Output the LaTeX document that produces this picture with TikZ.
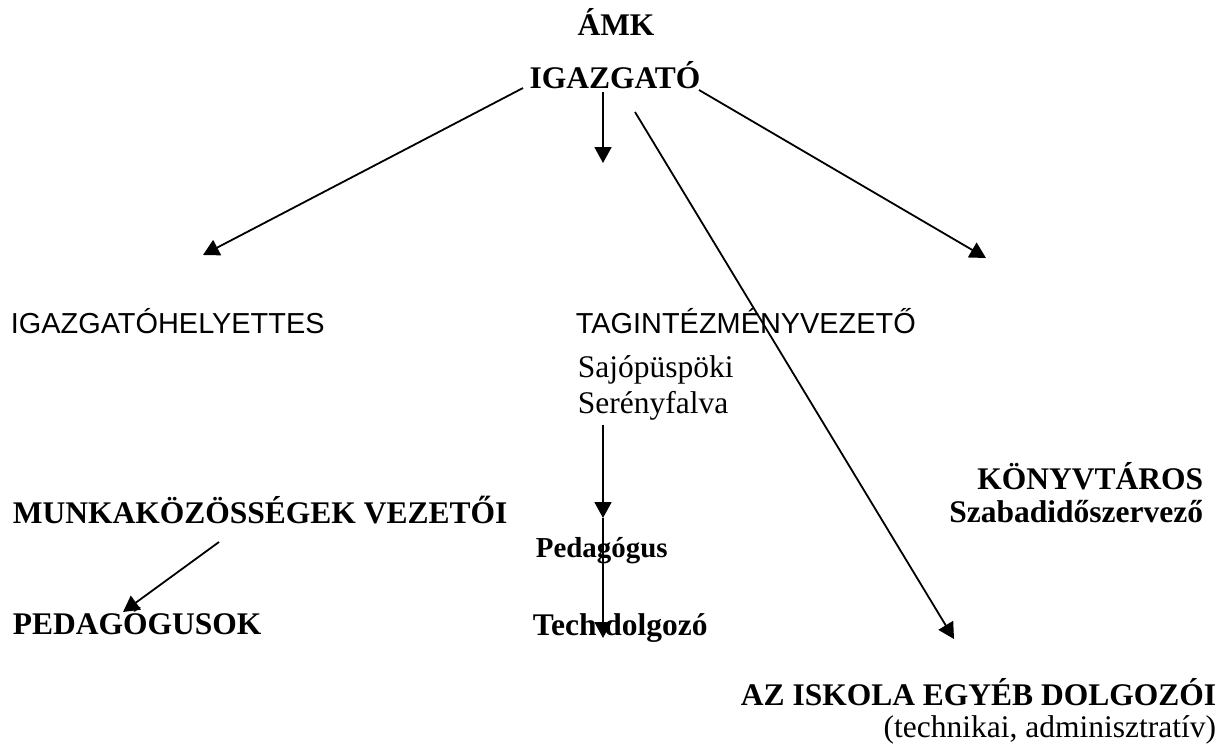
\documentclass[tikz,border=0pt]{standalone}
\usepackage{fontspec}
\setmainfont{Liberation Serif}
\setsansfont{Liberation Sans}
\usetikzlibrary{arrows.meta,positioning}

\begin{document}
\begin{tikzpicture}[x=1pt,y=-1pt,->,>={Triangle[length=16pt,width=17pt]},line width=1.8pt,
	base node/.style={inner sep=0pt,font=\fontsize{31.5}{36}\selectfont},
	bold node/.style={base node,font=\fontsize{31.5}{36}\selectfont\bfseries},
	small node/.style={base node,font=\fontsize{28.9}{34}\selectfont\bfseries},
	sans node/.style={base node,font=\fontsize{28.9}{34}\selectfont\sffamily}]

	\useasboundingbox (0,0) rectangle (1230,752);

	\node[bold node,anchor=base] (amk) at (616,36) {ÁMK};
	\node[bold node,anchor=base] (igazgato) at (615,88) {IGAZGATÓ};
	\node[sans node,anchor=base west] (helyettes) at (10,333) {IGAZGATÓHELYETTES};
	\node[sans node,anchor=base west] (tag) at (575,333) {TAGINTÉZMÉNYVEZETŐ};
	\node[base node,anchor=base west] (sajo) at (577,377) {Sajópüspöki};
	\node[base node,below=36pt of sajo.base west,anchor=base west] (seren) {Serényfalva};
	\node[bold node,anchor=base west] (munka) at (12,523) {MUNKAKÖZÖSSÉGEK VEZETŐI};
	\node[bold node,anchor=base west] (pedagogusok) at (12,634) {PEDAGÓGUSOK};
	\node[small node,anchor=base west] (pedagogus) at (535,557) {Pedagógus};
	\node[bold node,anchor=base west] (tech) at (532,635) {Tech dolgozó};
	\node[bold node,anchor=base east] (konyvtaros) at (1204,489) {KÖNYVTÁROS};
	\node[bold node,below=33pt of konyvtaros.base east,anchor=base east] (szabadido) {Szabadidőszervező};
	\node[bold node,anchor=base east] (iskola) at (1217,705) {AZ ISKOLA EGYÉB DOLGOZÓI};
	\node[base node,below=32pt of iskola.base east,anchor=base east] (technikai) {(technikai, adminisztratív)};

	% free ends of the arrows
	\coordinate (i left) at (523,88);
	\coordinate (i mid) at (603,92);
	\coordinate (i diag) at (635,112);
	\coordinate (i right) at (699,90);
	\coordinate (helyettes tip) at (203,255);
	\coordinate (tag tip) at (603,163);
	\coordinate (iskola tip) at (954,639);
	\coordinate (konyvtaros tip) at (986,258);
	\coordinate (munka start) at (219,542);
	\coordinate (pedagogusok tip) at (123,612);
	\coordinate (seren start) at (603,425);
	\coordinate (pedagogus tip) at (603,518);
	\coordinate (tech tip) at (603,638);

	\path
	(i left) edge (helyettes tip)
	(i mid) edge (tag tip)
	(i diag) edge (iskola tip)
	(i right) edge (konyvtaros tip)
	(munka start) edge (pedagogusok tip)
	(seren start) edge (pedagogus tip)
	(pedagogus tip) edge (tech tip);
\end{tikzpicture}
\end{document}
